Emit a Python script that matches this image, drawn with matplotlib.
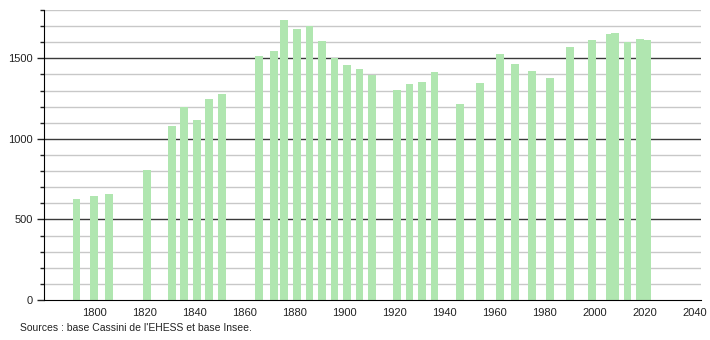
#!/usr/bin/env python3
"""
Population chart (census years) recreated with matplotlib.
"""

import matplotlib
matplotlib.use('Agg')
import matplotlib.pyplot as plt
from matplotlib.ticker import MultipleLocator

# census years and population values
years = [1793, 1800, 1806, 1821, 1831, 1836, 1841, 1846, 1851,
         1866, 1872, 1876, 1881, 1886, 1891, 1896, 1901, 1906, 1911,
         1921, 1926, 1931, 1936, 1946, 1954, 1962, 1968, 1975, 1982,
         1990, 1999, 2006, 2008, 2013, 2018, 2021]
population = [626, 647, 659, 807, 1080, 1197, 1116, 1250, 1276,
              1514, 1547, 1741, 1684, 1699, 1609, 1501, 1459, 1434, 1399,
              1303, 1341, 1353, 1416, 1216, 1349, 1524, 1466, 1424, 1378,
              1572, 1616, 1650, 1659, 1601, 1622, 1616]

x_ticks = list(range(1800, 2041, 20))
y_ticks = [0, 500, 1000, 1500]
source_text = "Sources : base Cassini de l'EHESS et base Insee."

plt.rcParams['font.family'] = ['Liberation Sans', 'DejaVu Sans']

fig = plt.figure(figsize=(7.1, 3.4), dpi=100)
ax = fig.add_axes([44 / 710, 40 / 340, (701 - 44) / 710, 290 / 340])

# gridlines: light every 100, dark every 500
for v in range(100, 1801, 100):
    if v % 500 == 0:
        ax.axhline(v, color='#3a3a3a', linewidth=1.0, zorder=1)
    else:
        ax.axhline(v, color='#c8c8c8', linewidth=1.0, zorder=1)

ax.bar(years, population, width=3.1, color='#b0e6b0', edgecolor='none', zorder=2)

ax.set_xlim(1780, 2042.4)
ax.set_ylim(0, 1800)

ax.set_xticks(x_ticks)
ax.set_yticks(y_ticks)
ax.yaxis.set_minor_locator(MultipleLocator(100))
ax.tick_params(axis='x', length=0, labelsize=8, pad=6, colors='#222222')
ax.tick_params(axis='y', which='major', length=5, width=1, labelsize=8,
               colors='#222222', pad=3)
ax.tick_params(axis='y', which='minor', length=3, width=1, colors='#222222')

for side in ['top', 'right']:
    ax.spines[side].set_visible(False)
ax.spines['left'].set_color('black')
ax.spines['bottom'].set_color('black')
ax.spines['left'].set_zorder(3)
ax.spines['bottom'].set_zorder(3)

fig.text(20 / 710, 1 - 328 / 340, source_text, fontsize=7.5, color='#222222',
         ha='left', va='center')

fig.savefig('out.png', dpi=100)
plt.close(fig)
